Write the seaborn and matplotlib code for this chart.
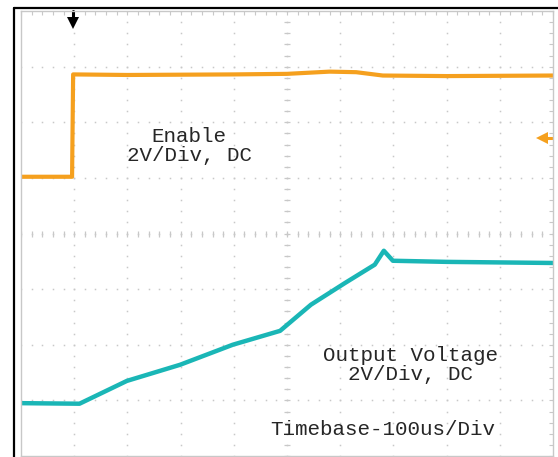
import numpy as np
import seaborn as sns
import matplotlib
matplotlib.use("Agg")
import matplotlib.pyplot as plt
from matplotlib.lines import Line2D
import pandas as pd

# scope traces in divisions (x: 0..10, y: 0..8 from bottom)
enable_x = [0.0, 0.96, 0.98, 2.0, 4.0, 5.0, 5.8, 6.3, 6.8, 8.0, 10.0]
enable_y = [5.02, 5.02, 6.86, 6.85, 6.86, 6.87, 6.91, 6.90, 6.84, 6.83, 6.84]

vout_x = [0.0, 1.1, 1.99, 2.99, 3.98, 4.87, 5.45, 6.09, 6.65, 6.82, 6.99, 8.0, 10.0]
vout_y = [0.95, 0.94, 1.35, 1.64, 2.0, 2.25, 2.72, 3.11, 3.44, 3.69, 3.51, 3.49, 3.47]

labels = ["Enable\n2V/Div, DC", "Output Voltage\n2V/Div, DC", "Timebase-100us/Div"]

orange = "#f5a01e"
teal = "#1ab6b6"
grid_c = "#c8c8c8"

sns.set_style("white")
plt.rcParams['font.family'] = ['Liberation Mono', 'DejaVu Sans Mono']

fig = plt.figure(figsize=(5.58, 4.57), dpi=100)
ax = fig.add_axes([21 / 558, 1 / 457, 532 / 558, 445 / 457])
ax.set_xlim(0, 10)
ax.set_ylim(0, 8)

# dotted graticule
minor_x = np.arange(0, 10.01, 0.2)
minor_y = np.arange(0, 8.01, 0.2)
for gx in range(1, 10):
    ax.plot([gx] * len(minor_y), minor_y, ls="none", marker="s", ms=1.1, color=grid_c, mew=0)
for gy in range(1, 8):
    ax.plot(minor_x, [gy] * len(minor_x), ls="none", marker="s", ms=1.1, color=grid_c, mew=0)
# centre axes with small ticks
ax.plot(minor_x, [4] * len(minor_x), ls="none", marker="|", ms=4, color=grid_c, mew=0.9)
ax.plot([5] * len(minor_y), minor_y, ls="none", marker="_", ms=4, color=grid_c, mew=0.9)

for s in ax.spines.values():
    s.set_color(grid_c)
    s.set_linewidth(1)
ax.set_xticks(minor_x)
ax.set_yticks(minor_y)
ax.tick_params(direction="in", length=3, width=0.8, color=grid_c,
               top=True, right=True, labelbottom=False, labelleft=False)

df_en = pd.DataFrame({"t": enable_x, "v": enable_y})
df_out = pd.DataFrame({"t": vout_x, "v": vout_y})
sns.lineplot(data=df_en, x="t", y="v", ax=ax, color=orange, lw=3, estimator=None, sort=False)
sns.lineplot(data=df_out, x="t", y="v", ax=ax, color=teal, lw=3.2, estimator=None, sort=False)
ax.set_xlabel("")
ax.set_ylabel("")

# trigger marker (top) and ch1 reference marker (right)
ax.plot([0.98, 0.98], [8.0, 7.82], color="black", lw=2.2, clip_on=False)
ax.plot([0.98], [7.78], marker="v", ms=8, color="black", mew=0, clip_on=False)
ax.plot([9.84, 9.99], [5.72, 5.72], color=orange, lw=2.2, clip_on=False)
ax.plot([9.8], [5.72], marker="<", ms=8, color=orange, mew=0, clip_on=False)

ax.text(3.16, 5.57, labels[0], ha="center", va="center", fontsize=15, linespacing=1.0)
ax.text(7.33, 1.63, labels[1], ha="center", va="center", fontsize=15, linespacing=1.0)
ax.text(6.80, 0.47, labels[2], ha="center", va="center", fontsize=15)

# black screenshot frame
fig.add_artist(Line2D([13.5 / 558, 13.5 / 558], [0, 1 - 7.5 / 457], color="black", lw=1.6))
fig.add_artist(Line2D([13.5 / 558, 1], [1 - 7.5 / 457, 1 - 7.5 / 457], color="black", lw=1.6))

fig.savefig("out.png", dpi=100)
